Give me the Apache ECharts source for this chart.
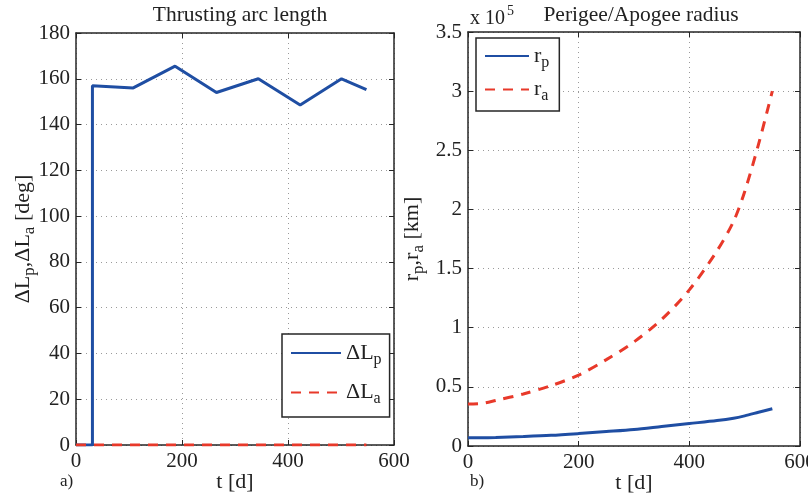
<!DOCTYPE html>
<html>
<head>
<meta charset="utf-8">
<script src="https://cdn.jsdelivr.net/npm/echarts@6/dist/echarts.min.js"></script>
<style>
html,body{margin:0;padding:0;background:#fff;}
#chart{width:808px;height:494px;}
</style>
</head>
<body>
<div id="chart"></div>
<script>
// a) thrusting arc length [deg] vs t [d]
var tLp = [0, 31, 31, 108, 187, 265, 344, 423, 501, 548];
var dLp = [0, 0, 157, 156, 165.5, 154, 160, 148.5, 160, 155.3];
var tLa = [0, 548];
var dLa = [0, 0];

// b) perigee / apogee radius [x 10^5 km]
var tR = [0, 25, 50, 100, 150, 200, 250, 300, 350, 400, 450, 480, 500, 525, 550];
var rp = [0.07, 0.07, 0.072, 0.08, 0.09, 0.105, 0.122, 0.14, 0.165, 0.19, 0.215, 0.235, 0.255, 0.285, 0.315];
var ra = [0.355, 0.36, 0.385, 0.44, 0.51, 0.6, 0.73, 0.88, 1.07, 1.32, 1.65, 1.9, 2.15, 2.55, 3.0];

function pairs(xs, ys) {
  return xs.map(function (x, i) { return [x, ys[i]]; });
}

var font = "'Liberation Serif', 'Times New Roman', serif";
var blue = '#1f4ea3';
var red = '#e8392a';
var axisCol = '#262626';
var gridLine = {show: true, lineStyle: {color: '#9a9a9a', type: [1, 4], width: 1}};

function mainX(gi) {
  return {
    type: 'value', gridIndex: gi, min: 0, max: 600, interval: 200,
    name: 't [d]', nameLocation: 'middle', nameGap: 26, nameMoveOverlap: false,
    nameTextStyle: {fontFamily: font, fontSize: 22, color: '#222'},
    axisLine: {show: true, onZero: false, lineStyle: {color: axisCol, width: 1.5}},
    axisTick: {show: true, inside: true, length: 5, lineStyle: {color: axisCol}},
    axisLabel: {fontFamily: font, fontSize: 21, color: '#222', margin: 6},
    splitLine: gridLine
  };
}
function mirror(type, gi, pos, min, max, interval) {
  return {
    type: type, gridIndex: gi, position: pos, min: min, max: max, interval: interval,
    axisLine: {show: true, onZero: false, lineStyle: {color: axisCol, width: 1.5}},
    axisTick: {show: true, inside: true, length: 5, lineStyle: {color: axisCol}},
    axisLabel: {show: false}, splitLine: {show: false}
  };
}

var subRich = {
  m: {fontFamily: font, fontSize: 22, color: '#222'},
  s: {fontFamily: font, fontSize: 16, color: '#222', padding: [13, 0, 0, 0]}
};
var nameRich = {
  m: {fontFamily: font, fontSize: 22, color: '#222'},
  s: {fontFamily: font, fontSize: 17, color: '#222', padding: [13, 0, 0, 0]}
};

var chart = echarts.init(document.getElementById('chart'));
chart.setOption({
  animation: false,
  title: [
    {text: 'Thrusting arc length', left: 235, top: -1, textAlign: 'center',
     textStyle: {fontFamily: font, fontSize: 21.5, fontWeight: 'normal', color: '#222'}},
    {text: 'Perigee/Apogee radius', left: 636, top: -1, textAlign: 'center',
     textStyle: {fontFamily: font, fontSize: 21.5, fontWeight: 'normal', color: '#222'}}
  ],
  grid: [
    {left: 76, right: 414, top: 33, bottom: 49, outerBoundsMode: 'none'},
    {left: 468, right: 8, top: 32, bottom: 48, outerBoundsMode: 'none'}
  ],
  legend: [
    {
      data: ['ΔLp', 'ΔLa'], left: 282, top: 334, orient: 'vertical',
      itemWidth: 50, itemHeight: 12, itemGap: 14,
      padding: [8, 8, 10, 8],
      itemStyle: {opacity: 0},
      backgroundColor: '#fff', borderColor: axisCol, borderWidth: 1.5, borderRadius: 0,
      formatter: function (n) { return '{m|ΔL}{s|' + n.slice(2) + '}'; },
      textStyle: {rich: subRich}
    },
    {
      data: ['rp', 'ra'], left: 476, top: 38, orient: 'vertical',
      itemWidth: 44, itemHeight: 12, itemGap: 8,
      padding: [7, 10, 7, 8],
      itemStyle: {opacity: 0},
      backgroundColor: '#fff', borderColor: axisCol, borderWidth: 1.5, borderRadius: 0,
      formatter: function (n) { return '{m|r}{s|' + n.slice(1) + '}'; },
      textStyle: {rich: subRich}
    }
  ],
  xAxis: [
    mainX(0),
    mainX(1),
    mirror('value', 0, 'top', 0, 600, 200),
    mirror('value', 1, 'top', 0, 600, 200)
  ],
  yAxis: [
    {
      type: 'value', gridIndex: 0, min: 0, max: 180, interval: 20,
      name: '{m|ΔL}{s|p}{m|,ΔL}{s|a}{m| [deg]}', nameLocation: 'middle', nameGap: 38,
      nameMoveOverlap: false,
      nameTextStyle: {rich: nameRich},
      axisLine: {show: true, onZero: false, lineStyle: {color: axisCol, width: 1.5}},
      axisTick: {show: true, inside: true, length: 5, lineStyle: {color: axisCol}},
      axisLabel: {fontFamily: font, fontSize: 21, color: '#222', margin: 6},
      splitLine: gridLine
    },
    {
      type: 'value', gridIndex: 1, min: 0, max: 3.5, interval: 0.5,
      name: '{m|r}{s|p}{m|,r}{s|a}{m| [km]}', nameLocation: 'middle', nameGap: 41,
      nameMoveOverlap: false,
      nameTextStyle: {rich: nameRich},
      axisLine: {show: true, onZero: false, lineStyle: {color: axisCol, width: 1.5}},
      axisTick: {show: true, inside: true, length: 5, lineStyle: {color: axisCol}},
      axisLabel: {fontFamily: font, fontSize: 21, color: '#222', margin: 6},
      splitLine: gridLine
    },
    mirror('value', 0, 'right', 0, 180, 20),
    mirror('value', 1, 'right', 0, 3.5, 0.5)
  ],
  graphic: [
    {type: 'text', left: 60, top: 473, style: {text: 'a)', fontFamily: font, fontSize: 17, fill: '#222'}},
    {type: 'text', left: 470, top: 473, style: {text: 'b)', fontFamily: font, fontSize: 17, fill: '#222'}},
    {type: 'text', left: 470, top: 4, style: {
      text: '{m|x 10}{e|5}',
      rich: {m: {fontFamily: font, fontSize: 20, fill: '#222', padding: [8, 0, 0, 0]},
             e: {fontFamily: font, fontSize: 14, fill: '#222', padding: [0, 0, 8, 2]}}
    }}
  ],
  series: [
    {name: 'ΔLp', type: 'line', xAxisIndex: 0, yAxisIndex: 0, data: pairs(tLp, dLp),
     symbol: 'none', lineStyle: {color: blue, width: 3}, itemStyle: {color: blue}, z: 3},
    {name: 'ΔLa', type: 'line', xAxisIndex: 0, yAxisIndex: 0, data: pairs(tLa, dLa),
     symbol: 'none', lineStyle: {color: red, width: 3, type: [10, 8]}, itemStyle: {color: red}, z: 4},
    {name: 'rp', type: 'line', xAxisIndex: 1, yAxisIndex: 1, data: pairs(tR, rp), smooth: 0.3,
     symbol: 'none', lineStyle: {color: blue, width: 3}, itemStyle: {color: blue}},
    {name: 'ra', type: 'line', xAxisIndex: 1, yAxisIndex: 1, data: pairs(tR, ra), smooth: 0.3,
     symbol: 'none', lineStyle: {color: red, width: 3, type: [10, 8]}, itemStyle: {color: red}}
  ]
});
</script>
</body>
</html>
